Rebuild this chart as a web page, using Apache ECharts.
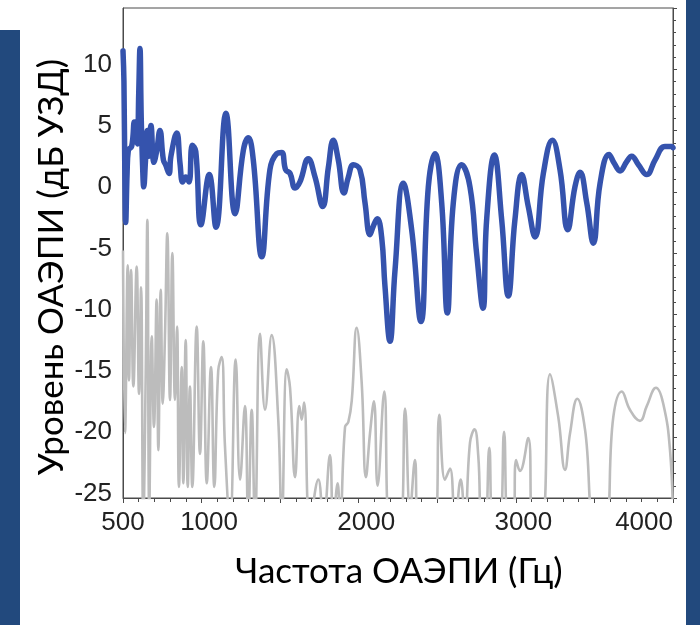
<!DOCTYPE html>
<html>
<head>
<meta charset="utf-8">
<script src="https://cdn.jsdelivr.net/npm/echarts@6/dist/echarts.min.js"></script>
<style>
html,body{margin:0;padding:0;background:#fff;}
#chart{width:700px;height:625px;}
</style>
</head>
<body>
<div id="chart"></div>
<script>
// ---- data ----
const xTickLabels = [500, 1000, 2000, 3000, 4000];
const yTickLabels = [10, 5, 0, -5, -10, -15, -20, -25];

const oaeFreq = [500,506,512,517,526,534,555,572,581,591,600,608,616,625,632,643,655,664,678,697,714,735,757,771,793,805,842,863,880,899,920,941,963,996,1049,1092,1155,1213,1266,1297,1329,1383,1435,1478,1510,1535,1563,1595,1626,1679,1722,1771,1807,1838,1870,1906,1934,1966,2008,2040,2072,2093,2118,2146,2167,2199,2231,2284,2337,2396,2443,2485,2528,2564,2602,2655,2708,2750,2791,2814,2863,2910,2952,2994,3037,3079,3122,3175,3232,3281,3330,3376,3408,3451,3493,3536,3593,3627,3663,3705,3737,3780,3833,3886,3949,3992,4000];
const oaeLevel = [11.5,9,1,-2.5,1.5,3.4,3.7,5.7,4.5,3.9,8,11.7,6,2,0.4,2.5,5.0,2.9,5.4,2.4,3.3,5.0,2.6,2.2,1.5,2.9,4.8,2.3,0.8,1.2,0.8,3.8,3.3,-2.7,1.4,-2.9,6.4,-1.8,3.4,4.4,2.6,-5.3,1.8,3.1,3.2,1.8,1.5,0.3,0.8,2.7,1.2,-1.2,2.0,4.2,2.6,-0.1,1.2,2.2,1.8,-0.9,-3.5,-2.8,-2.2,-3.7,-7.7,-12.2,-6.4,0.7,-3.1,-10.6,0.4,3.1,-0.9,-9.9,-0.9,2.2,0.4,-5.0,-9.5,-2.3,3.0,-2.3,-8.5,-2.3,1.4,-1.2,-3.7,1.5,4.2,1.8,-3.1,0.4,1.6,-0.9,-4.2,0.7,3.05,2.3,1.7,2.45,2.9,2.2,1.4,2.6,3.7,3.7,3.6];

const noiseFreq = [500,513,530,538,551,566,587,602,615,629,644,655,667,683,697,714,725,740,753,767,782,799,814,831,844,856,874,884,899,912,926,941,969,990,1011,1033,1060,1081,1106,1128,1149,1181,1217,1245,1276,1297,1319,1340,1372,1404,1446,1488,1510,1542,1563,1595,1622,1637,1652,1690,1743,1775,1817,1838,1866,1881,1913,1934,1956,1987,2019,2046,2072,2097,2120,2163,2199,2263,2295,2327,2358,2379,2485,2513,2549,2581,2613,2649,2676,2708,2737,2761,2783,2804,2831,2857,2895,2925,2952,2984,3001,3026,3079,3111,3164,3217,3270,3313,3345,3391,3440,3504,3567,3620,3674,3726,3790,3833,3892,3938,3981,4000];
const noiseLevel = [-4.8,-19.7,-6.0,-15.4,-6.4,-15.9,-6.1,-16.5,-7.8,-27,-15.4,-2.3,-26,-11.8,-19.2,-8.8,-21.1,-8.0,-17.3,-11.8,-3.4,-17.0,-5.0,-17.0,-11.0,-24.1,-14.3,-23.8,-12.1,-24.1,-15.9,-24.1,-11.0,-21.4,-12.2,-23.8,-14.3,-24.1,-14.6,-13.5,-20.8,-27,-13.7,-23.5,-17.5,-27,-17.8,-27,-11.6,-17.8,-11.7,-18.6,-27,-14.5,-16.0,-23.3,-17.5,-18.6,-17.2,-27,-23.5,-27,-21.5,-27,-23.8,-27,-19.2,-18.8,-17.0,-11.1,-15.6,-23.3,-19.7,-17.1,-24,-16.3,-27,-27,-17.7,-26,-21.9,-27,-27,-18.2,-23.5,-22.6,-27,-23.5,-27,-20.5,-19.4,-21.6,-27,-27,-20.9,-27,-27,-19.6,-27,-27,-21.9,-22.8,-20.1,-27,-27,-14.9,-18.4,-22.7,-19.7,-16.9,-19.4,-27,-27,-18.4,-16.3,-17.8,-18.7,-17.5,-16.0,-17.3,-21.1,-27];

const oaeData = oaeFreq.map((f, i) => [f, oaeLevel[i]]);
const noiseData = noiseFreq.map((f, i) => [f, noiseLevel[i]]);

const chart = echarts.init(document.getElementById('chart'), null, {renderer: 'canvas'});
const axisColor = '#4a4a4a';
const tickFont = {fontFamily: 'Liberation Sans', fontSize: 26, color: '#222'};

chart.setOption({
  backgroundColor: '#ffffff',
  animation: false,
  grid: {left: 123, right: 27, top: 8, bottom: 127, show: true, borderColor: axisColor, borderWidth: 1, backgroundColor: 'transparent'},
  graphic: [
    {type: 'rect', shape: {x: 0, y: 30, width: 20, height: 595}, style: {fill: '#22497d'}},
    {type: 'rect', shape: {x: 686, y: 0, width: 14, height: 625}, style: {fill: '#22497d'}},
    {type: 'text', x: 52, y: 267, rotation: Math.PI / 2, style: {text: 'Уровень ОАЭПИ (дБ УЗД)', fontFamily: 'Lato', fontSize: 35, fill: '#000', align: 'center', verticalAlign: 'middle'}},
    {type: 'text', x: 399, y: 572, style: {text: 'Частота ОАЭПИ (Гц)', fontFamily: 'Lato', fontSize: 35, fill: '#000', align: 'center', verticalAlign: 'middle'}}
  ],
  xAxis: {
    type: 'value', min: 500, max: 4000, interval: 500,
    axisLine: {show: true, onZero: false, lineStyle: {color: axisColor, width: 1}},
    axisTick: {show: true, inside: false, length: 5, lineStyle: {color: axisColor}},
    minorTick: {show: true, splitNumber: 5, length: 4, lineStyle: {color: axisColor}},
    splitLine: {show: false},
    axisLabel: Object.assign({
      margin: 12,
      alignMaxLabel: 'right',
      formatter: v => {
        if (!xTickLabels.includes(v)) return '';
        if (v === 500 || v === 4000) return String(v);
        return '{s|' + v + '}';
      },
      rich: {s: {fontFamily: 'Liberation Sans', fontSize: 26, color: '#222', padding: [0, 0, 0, 15]}}
    }, tickFont)
  },
  yAxis: [
    {
      type: 'value', min: -25, max: 15, interval: 5,
      axisLine: {show: true, lineStyle: {color: axisColor, width: 1}},
      axisTick: {show: false},
      splitLine: {show: false},
      axisLabel: Object.assign({
        margin: 11,
        formatter: v => yTickLabels.includes(v) ? '{u|' + v + '}' : '',
        rich: {u: {fontFamily: 'Liberation Sans', fontSize: 26, color: '#222', padding: [0, 0, 9, 0]}}
      }, tickFont)
    },
    {
      type: 'value', min: -25, max: 15, interval: 5, position: 'right',
      axisLine: {show: true, lineStyle: {color: axisColor, width: 1}},
      axisTick: {show: true, inside: false, length: 4, lineStyle: {color: axisColor}},
      minorTick: {show: true, splitNumber: 5, length: 3, lineStyle: {color: axisColor}},
      splitLine: {show: false},
      axisLabel: {show: false}
    }
  ],
  series: [
    {
      type: 'line', data: noiseData, showSymbol: false, smooth: 0.45, clip: true,
      lineStyle: {color: '#bcbcbc', width: 2.6}, z: 2
    },
    {
      type: 'line', data: oaeData, showSymbol: false, smooth: 0.45, clip: true,
      lineStyle: {color: '#3553ad', width: 5.5, cap: 'round', join: 'round'}, z: 3
    }
  ]
});
</script>
</body>
</html>
